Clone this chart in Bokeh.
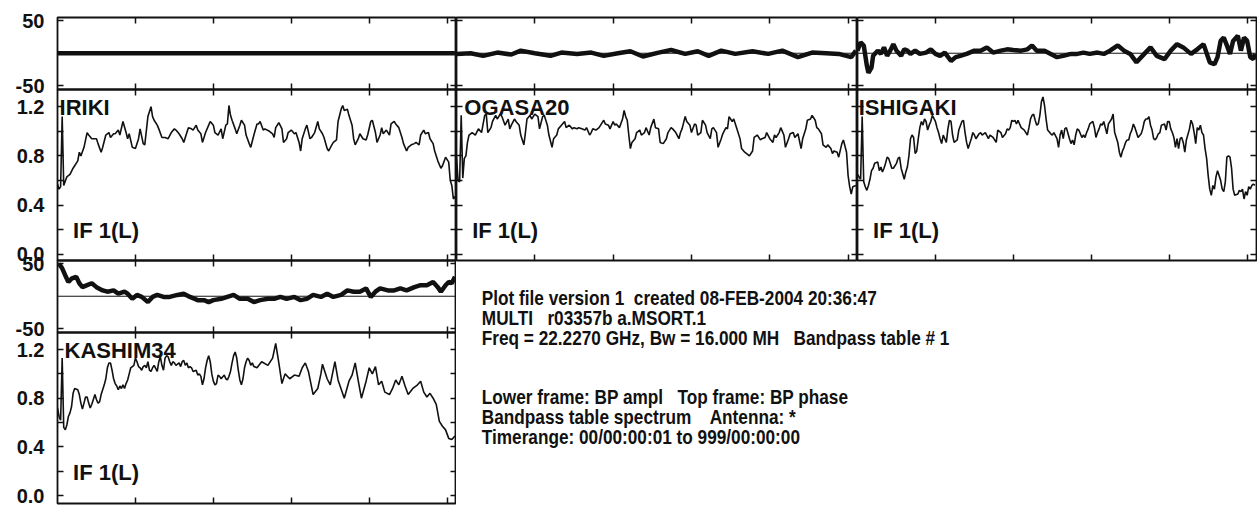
from bokeh.plotting import figure
from bokeh.models import Range1d, LinearAxis, FixedTicker, Span, Label, InlineStyleSheet
from bokeh.layouts import row, column
from bokeh.embed import file_html
from bokeh.resources import INLINE

# ---------------- data ----------------
x_ticks = [50, 100, 150, 200, 250]
phase_ticks = [-50, 50]
phase_tick_labels = ["-50", "50"]
amp_ticks = [0.0, 0.2, 0.4, 0.6, 0.8, 1.0, 1.2]
amp_tick_labels = ["0.0", "", "0.4", "", "0.8", "", "1.2"]
if_label = "IF 1(L)"
antennas = ["IRIKI", "OGASA20", "ISHIGAKI", "KASHIM34"]

iriki_amp_chan = [0, 1, 2, 3, 4, 6, 8, 10, 13, 14, 15, 17, 19, 20, 22, 23, 25, 26, 28, 29, 31, 33, 34, 36, 37, 39, 40, 42, 44, 45, 46, 48, 50, 52, 53, 55, 56, 58, 60, 61, 62, 64, 65, 67, 69, 71, 73, 75, 76, 78, 80, 81, 83, 84, 86, 87, 89, 90, 92, 93, 95, 97, 98, 100, 101, 103, 105, 106, 108, 109, 110, 111, 112, 114, 115, 117, 118, 120, 121, 123, 124, 126, 128, 129, 130, 132, 133, 136, 138, 139, 140, 142, 144, 145, 147, 148, 150, 152, 153, 155, 156, 157, 159, 160, 162, 163, 165, 167, 168, 170, 171, 173, 174, 176, 177, 179, 180, 182, 183, 184, 186, 187, 189, 190, 191, 193, 194, 196, 198, 199, 201, 202, 204, 205, 207, 208, 209, 211, 213, 214, 216, 217, 219, 221, 222, 224, 225, 227, 229, 230, 232, 233, 235, 236, 238, 239, 241, 242, 244, 246, 247, 249, 251, 252, 253, 254, 255]
iriki_amp = [0.57, 0.53, 0.55, 1.12, 0.56, 0.63, 0.65, 0.70, 0.76, 0.83, 0.80, 0.87, 0.99, 0.97, 0.94, 0.94, 0.94, 0.90, 0.83, 0.87, 0.97, 0.99, 0.95, 0.98, 0.98, 1.01, 0.97, 1.08, 0.99, 0.94, 0.98, 0.87, 0.86, 0.94, 1.02, 0.90, 0.89, 1.12, 1.20, 1.12, 1.09, 1.05, 1.02, 0.95, 0.95, 0.94, 0.99, 1.02, 1.01, 0.98, 0.94, 0.91, 0.99, 1.03, 1.02, 1.01, 1.05, 1.01, 0.98, 0.91, 0.99, 1.05, 1.08, 1.05, 0.99, 0.97, 1.02, 0.94, 1.05, 1.06, 1.21, 1.13, 1.09, 1.02, 0.98, 1.05, 1.09, 1.05, 0.97, 0.90, 0.87, 0.97, 1.06, 1.06, 1.08, 1.01, 1.02, 1.00, 0.98, 0.95, 1.03, 1.07, 1.02, 0.91, 0.94, 0.99, 1.01, 0.98, 0.99, 0.91, 0.84, 0.94, 1.02, 1.05, 0.94, 0.95, 0.99, 1.08, 1.02, 0.98, 0.95, 0.86, 0.84, 0.89, 0.91, 0.93, 1.08, 1.18, 1.21, 1.17, 1.18, 1.13, 1.05, 0.94, 0.89, 0.94, 0.98, 0.94, 0.93, 0.97, 1.08, 1.09, 0.99, 0.91, 0.97, 1.03, 0.98, 1.01, 0.97, 1.06, 1.08, 1.06, 1.03, 0.95, 0.90, 0.84, 0.87, 0.89, 0.90, 0.91, 0.89, 0.97, 1.01, 0.98, 0.99, 0.94, 0.90, 0.84, 0.76, 0.70, 0.72, 0.79, 0.75, 0.60, 0.56, 0.45, 0.47]
iriki_phase_chan = [0, 32, 64, 96, 128, 160, 192, 224, 255]
iriki_phase = [0.0, 0.0, 0.0, 0.0, 0.0, 0.0, 0.0, 0.0, 0.0]

ogasa_amp_chan = [0, 1, 2, 3, 4, 5, 6, 7, 8, 10, 12, 14, 16, 18, 19, 20, 22, 23, 25, 26, 28, 29, 31, 33, 34, 35, 37, 38, 40, 41, 43, 44, 45, 47, 48, 50, 52, 53, 55, 56, 58, 59, 61, 62, 64, 65, 67, 69, 70, 72, 74, 75, 77, 78, 80, 82, 83, 85, 86, 87, 89, 91, 92, 94, 95, 97, 98, 100, 101, 102, 104, 106, 107, 108, 109, 110, 111, 112, 114, 115, 117, 118, 120, 121, 123, 124, 126, 127, 129, 130, 132, 134, 135, 137, 138, 140, 142, 143, 144, 146, 147, 149, 150, 152, 153, 154, 156, 157, 159, 160, 162, 163, 164, 166, 167, 169, 170, 172, 173, 174, 176, 177, 179, 181, 182, 184, 185, 187, 189, 190, 192, 194, 195, 197, 198, 200, 202, 203, 204, 206, 207, 209, 210, 212, 213, 215, 216, 218, 220, 221, 223, 224, 226, 227, 229, 230, 231, 233, 234, 236, 237, 239, 240, 241, 243, 244, 246, 247, 249, 250, 251, 252, 253, 255]
ogasa_amp = [0.79, 0.60, 0.59, 1.13, 0.62, 0.78, 0.80, 0.91, 0.97, 0.99, 0.97, 1.02, 0.99, 1.13, 1.14, 0.99, 1.03, 1.08, 1.13, 1.10, 1.14, 1.12, 1.05, 1.10, 1.02, 1.05, 1.10, 1.08, 1.05, 0.97, 0.89, 0.99, 1.10, 1.13, 1.10, 1.14, 1.12, 1.02, 1.12, 1.13, 1.05, 0.97, 0.87, 0.94, 0.97, 1.02, 1.05, 1.08, 1.03, 1.05, 1.02, 1.03, 1.02, 1.03, 1.02, 1.01, 1.03, 0.97, 0.99, 1.02, 1.01, 1.03, 1.05, 1.09, 1.06, 1.05, 1.02, 1.08, 1.05, 1.06, 1.03, 1.10, 1.17, 1.12, 1.09, 0.97, 0.86, 0.91, 0.94, 0.99, 1.01, 0.97, 0.99, 1.03, 0.97, 1.03, 1.10, 1.03, 1.02, 0.91, 0.90, 0.94, 0.99, 1.03, 1.02, 0.99, 0.94, 0.99, 1.02, 1.12, 1.08, 1.05, 0.99, 1.06, 1.05, 0.97, 0.99, 1.09, 1.05, 0.99, 0.94, 1.02, 1.03, 0.99, 0.87, 0.94, 0.98, 1.03, 1.02, 1.12, 1.08, 1.10, 1.02, 0.94, 0.86, 0.83, 0.82, 0.80, 0.84, 0.95, 0.97, 0.93, 0.94, 0.95, 0.99, 0.94, 0.91, 0.97, 0.95, 0.99, 1.03, 0.97, 0.87, 0.94, 0.98, 0.99, 0.95, 0.98, 0.86, 0.94, 1.02, 1.09, 1.10, 1.13, 1.09, 1.03, 1.02, 0.98, 0.89, 0.87, 0.89, 0.86, 0.82, 0.84, 0.83, 0.79, 0.90, 0.93, 0.83, 0.64, 0.55, 0.49, 0.55, 0.56]
ogasa_phase_chan = [0, 9, 17, 26, 35, 41, 50, 60, 67, 77, 86, 94, 103, 111, 119, 129, 137, 146, 154, 161, 169, 178, 189, 199, 208, 218, 227, 236, 244, 252, 255]
ogasa_phase = [-1, 0, -4, 1, -2, 4, 0, -4, 1, -1, 1, -4, 0, 3, -5, 1, 5, -1, 3, -4, 4, -1, 3, -1, 4, -6, 1, 0, -1, -6, 4]

ishigaki_amp_chan = [0, 1, 2, 3, 4, 5, 6, 7, 8, 9, 10, 11, 13, 14, 15, 16, 17, 18, 19, 20, 21, 22, 23, 25, 26, 27, 28, 30, 31, 32, 33, 34, 35, 36, 37, 38, 39, 40, 41, 42, 43, 44, 45, 46, 47, 48, 50, 51, 52, 53, 54, 55, 56, 57, 58, 59, 60, 61, 62, 64, 65, 67, 68, 69, 70, 71, 72, 73, 74, 75, 76, 78, 79, 80, 82, 84, 85, 87, 89, 90, 92, 93, 95, 96, 97, 98, 99, 100, 101, 102, 103, 104, 105, 107, 108, 109, 110, 111, 112, 113, 114, 115, 116, 117, 118, 119, 120, 121, 122, 124, 125, 126, 128, 129, 130, 131, 132, 133, 134, 136, 137, 138, 139, 140, 141, 142, 143, 144, 145, 146, 147, 148, 149, 151, 152, 153, 154, 155, 156, 157, 158, 159, 160, 161, 162, 163, 164, 165, 167, 168, 169, 170, 171, 172, 173, 174, 175, 176, 177, 178, 179, 180, 182, 183, 184, 185, 186, 187, 188, 189, 190, 191, 192, 193, 194, 195, 197, 198, 199, 200, 201, 202, 203, 204, 205, 206, 207, 208, 209, 210, 211, 213, 214, 215, 216, 217, 218, 219, 220, 221, 222, 223, 224, 225, 226, 227, 228, 229, 230, 231, 232, 233, 234, 235, 236, 237, 238, 239, 240, 241, 242, 244, 245, 246, 247, 248, 249, 250, 251, 252, 253, 254, 255]
ishigaki_amp = [0.65, 0.63, 0.61, 1.12, 0.59, 0.55, 0.52, 0.56, 0.61, 0.68, 0.70, 0.74, 0.75, 0.68, 0.71, 0.67, 0.70, 0.74, 0.79, 0.78, 0.74, 0.70, 0.70, 0.74, 0.78, 0.79, 0.70, 0.61, 0.67, 0.71, 0.80, 0.94, 0.97, 0.95, 0.82, 0.84, 0.94, 1.03, 1.08, 1.05, 1.10, 1.08, 1.01, 1.05, 1.08, 1.13, 1.08, 1.03, 0.99, 0.94, 0.90, 0.97, 0.94, 0.91, 1.02, 1.09, 1.08, 0.97, 0.91, 0.93, 1.01, 1.08, 1.09, 0.99, 0.91, 0.86, 0.90, 0.94, 0.99, 0.97, 0.94, 0.98, 0.99, 0.97, 0.99, 0.94, 0.97, 0.95, 0.91, 1.01, 0.99, 0.95, 0.98, 1.02, 1.01, 1.03, 1.09, 1.08, 1.09, 1.06, 1.09, 1.06, 1.03, 1.01, 0.99, 0.97, 1.03, 1.10, 1.13, 1.14, 1.09, 1.05, 1.06, 1.13, 1.24, 1.28, 1.21, 1.10, 1.01, 0.98, 0.97, 0.99, 0.94, 0.87, 0.97, 1.01, 0.94, 1.02, 1.03, 0.94, 0.90, 0.93, 0.89, 0.97, 1.02, 1.01, 0.98, 0.95, 0.97, 0.95, 0.99, 1.02, 1.06, 1.08, 1.03, 0.95, 0.99, 1.02, 1.06, 1.05, 1.08, 1.03, 0.98, 1.06, 1.08, 1.10, 1.14, 0.99, 0.91, 0.83, 0.79, 0.84, 0.87, 0.91, 0.93, 0.93, 0.98, 1.01, 1.06, 1.03, 0.99, 0.95, 0.98, 1.02, 1.08, 1.10, 1.10, 1.12, 1.05, 1.01, 0.94, 0.93, 0.95, 0.98, 0.99, 1.05, 1.06, 1.01, 1.08, 1.08, 1.02, 0.99, 0.95, 0.87, 0.94, 0.86, 0.94, 0.95, 0.91, 0.83, 0.93, 1.02, 1.09, 1.06, 0.99, 0.90, 1.03, 1.01, 1.05, 0.99, 0.97, 0.86, 0.78, 0.64, 0.53, 0.48, 0.56, 0.53, 0.63, 0.68, 0.64, 0.60, 0.53, 0.51, 0.59, 0.79, 0.80, 0.79, 0.70, 0.53, 0.48, 0.49, 0.52, 0.51, 0.53, 0.45, 0.51, 0.48, 0.55, 0.53, 0.56, 0.57, 0.56]
ishigaki_phase_chan = [0, 2, 4, 6, 7, 9, 10, 13, 15, 17, 19, 21, 23, 25, 28, 30, 32, 34, 37, 40, 44, 47, 50, 53, 56, 60, 63, 66, 70, 75, 79, 83, 87, 92, 96, 100, 105, 109, 112, 115, 120, 124, 128, 132, 137, 141, 145, 149, 154, 158, 162, 167, 171, 175, 179, 184, 188, 192, 197, 201, 205, 209, 214, 218, 222, 226, 229, 231, 233, 235, 237, 239, 241, 244, 246, 248, 250, 252, 254, 255]
ishigaki_phase = [4, 17, 12, -19, -30, -22, -4, 4, -1, 9, -4, 4, 14, 4, -4, 6, 4, -1, 4, -1, 1, 6, -1, -4, 1, -12, -6, -4, -1, 4, 4, 9, 1, 4, 6, 5, 4, 6, 12, 4, 4, -1, -6, -4, -1, -1, 1, -1, 1, -1, 4, 12, 4, -1, -14, -1, 9, -4, -9, 4, 14, 9, -1, 6, 14, -14, -17, -6, 19, 24, 12, -1, 19, 27, 4, 24, 19, -6, -9, -1]

kashim_amp_chan = [0, 1, 2, 3, 4, 5, 6, 7, 8, 9, 10, 11, 13, 14, 15, 16, 17, 18, 19, 20, 21, 22, 23, 24, 25, 26, 27, 28, 30, 31, 32, 33, 34, 35, 36, 37, 38, 39, 40, 41, 42, 43, 44, 45, 46, 47, 49, 50, 51, 52, 53, 54, 55, 56, 57, 58, 59, 60, 61, 62, 64, 65, 66, 67, 68, 69, 70, 71, 72, 73, 74, 75, 76, 78, 79, 80, 81, 82, 83, 84, 85, 86, 87, 89, 90, 91, 92, 93, 94, 95, 96, 97, 98, 99, 100, 101, 102, 103, 104, 105, 107, 108, 109, 110, 111, 112, 113, 114, 115, 116, 117, 118, 119, 120, 121, 122, 123, 124, 125, 126, 128, 131, 135, 138, 140, 142, 144, 146, 149, 152, 155, 157, 159, 161, 164, 167, 169, 170, 173, 175, 178, 180, 184, 187, 189, 191, 193, 195, 198, 200, 202, 204, 206, 208, 210, 213, 215, 217, 219, 221, 223, 225, 228, 231, 233, 235, 237, 239, 241, 243, 245, 247, 249, 251, 253, 255]
kashim_amp = [0.72, 0.65, 0.62, 1.13, 0.56, 0.54, 0.58, 0.65, 0.68, 0.73, 0.84, 0.88, 0.87, 0.83, 0.76, 0.71, 0.76, 0.81, 0.81, 0.76, 0.72, 0.75, 0.79, 0.83, 0.79, 0.76, 0.77, 0.83, 0.91, 0.96, 1.05, 1.09, 1.09, 1.03, 0.96, 0.92, 0.90, 0.87, 0.90, 0.88, 0.91, 0.88, 0.92, 0.95, 1.00, 1.05, 1.07, 1.13, 1.10, 1.06, 1.05, 1.03, 1.06, 1.07, 1.05, 1.10, 1.03, 1.02, 1.05, 1.07, 1.02, 1.10, 1.14, 1.07, 1.03, 1.13, 1.15, 1.14, 1.10, 1.07, 1.10, 1.09, 1.07, 1.09, 1.06, 1.10, 1.11, 1.07, 1.09, 1.05, 1.06, 1.05, 1.02, 1.03, 0.99, 1.00, 0.98, 0.91, 0.96, 1.05, 1.11, 1.15, 1.10, 1.00, 0.94, 0.91, 0.92, 0.99, 0.98, 0.96, 0.99, 0.96, 0.95, 0.98, 1.02, 1.09, 1.15, 1.18, 1.13, 1.03, 0.95, 0.91, 0.96, 1.05, 1.10, 1.13, 1.11, 1.07, 1.09, 1.06, 1.05, 1.10, 1.07, 1.13, 1.25, 1.09, 0.92, 1.00, 0.96, 0.99, 0.98, 1.05, 1.09, 1.02, 0.83, 0.88, 1.00, 1.08, 0.96, 0.91, 1.10, 0.95, 0.80, 0.94, 0.99, 1.09, 0.94, 0.80, 0.94, 1.05, 1.00, 1.06, 0.91, 0.94, 0.85, 0.83, 0.88, 0.95, 0.91, 0.98, 0.90, 0.83, 0.88, 0.91, 0.94, 0.85, 0.81, 0.84, 0.80, 0.75, 0.61, 0.57, 0.54, 0.47, 0.46, 0.49]
kashim_phase_chan = [1, 3, 5, 7, 9, 12, 14, 16, 19, 22, 25, 29, 32, 36, 39, 43, 45, 48, 51, 54, 58, 61, 64, 68, 72, 77, 81, 85, 90, 94, 97, 100, 105, 109, 113, 117, 122, 126, 130, 135, 139, 143, 147, 152, 156, 160, 164, 169, 173, 177, 182, 186, 190, 194, 198, 201, 204, 207, 212, 216, 220, 224, 229, 233, 237, 241, 244, 246, 249, 251, 253, 255]
kashim_phase = [50, 43, 32, 22, 27, 30, 20, 14, 17, 20, 14, 9, 7, 9, 4, 7, 4, -4, 2, -1, -9, -1, 2, -1, -1, 2, 4, -1, -6, -6, -9, -6, -4, -1, 2, -4, -4, -9, -6, -4, -4, -1, -4, -1, -6, -4, 2, -1, 4, -1, 2, 9, 7, 7, 12, -1, 7, 12, 9, 9, 12, 9, 14, 17, 17, 22, 14, 7, 17, 22, 20, 30]

info_lines = [
    "Plot file version 1\u00a0 created 08-FEB-2004 20:36:47",
    "MULTI\u00a0\u00a0 r03357b a.MSORT.1",
    "Freq = 22.2270 GHz, Bw = 16.000 MH\u00a0\u00a0 Bandpass table # 1",
    "Lower frame: BP ampl\u00a0\u00a0 Top frame: BP phase",
    "Bandpass table spectrum\u00a0\u00a0\u00a0 Antenna: *",
    "Timerange: 00/00:00:01 to 999/00:00:00",
]

series = [
    (iriki_phase_chan, iriki_phase, iriki_amp_chan, iriki_amp),
    (ogasa_phase_chan, ogasa_phase, ogasa_amp_chan, ogasa_amp),
    (ishigaki_phase_chan, ishigaki_phase, ishigaki_amp_chan, ishigaki_amp),
    (kashim_phase_chan, kashim_phase, kashim_amp_chan, kashim_amp),
]

# ---------------- styling / layout ----------------
FONT = "Liberation Sans"
FRAME_W = [399, 401, 399]
LEFT_B = 57
TOP_B = 17
OV = 10            # overlap borders so that labels near edges are not clipped
PHASE_H = 72
AMP_H = 171
X_RANGE = (0, 256)
PHASE_RANGE = (-55.8, 55.0)
AMP_RANGE_TOP = (-0.05, 1.34)
AMP_RANGE_BOTTOM = (-0.065, 1.34)
name_x = [1.3, 5.0, 0.8, 4.5]   # label offsets (channels)
NAME_Y = 1.19
IF_Y = 0.19
INK = "#111111"


def style_axis(ax, ticks, labels=None):
    ax.ticker = FixedTicker(ticks=ticks)
    ax.major_tick_in = 6
    ax.major_tick_out = 0
    ax.minor_tick_in = 0
    ax.minor_tick_out = 0
    ax.major_tick_line_color = INK
    ax.major_tick_line_width = 1.5
    ax.axis_line_color = None
    if labels is None:
        ax.major_label_text_color = None
        ax.major_label_standoff = 0
    else:
        ax.major_label_overrides = dict(zip(ticks, labels))
        ax.major_label_text_font = FONT
        ax.major_label_text_font_style = "bold"
        ax.major_label_text_font_size = "20px"
        ax.major_label_text_color = INK
        ax.major_label_standoff = 13


def make_fig(col, frame_h, bt, bb, mt, mb, yrange, yticks, ylabels):
    bl = LEFT_B if col == 0 else 0
    br = 1 if col == 2 else 0
    p = figure(width=FRAME_W[col] + bl + br, height=frame_h + bt + bb, title=None,
               x_range=Range1d(*X_RANGE), y_range=Range1d(*yrange),
               output_backend="svg", toolbar_location=None, tools="",
               min_border_left=bl, min_border_right=br,
               min_border_top=bt, min_border_bottom=bb,
               margin=(mt, 0, mb, 0))
    p.background_fill_color = None
    p.border_fill_color = None
    p.xgrid.visible = False
    p.ygrid.visible = False
    p.outline_line_color = INK
    p.outline_line_width = 1.8
    p.add_layout(LinearAxis(), "above")
    p.add_layout(LinearAxis(), "right")
    for ax in p.xaxis:
        style_axis(ax, x_ticks)
    style_axis(p.right[0], yticks)
    style_axis(p.left[0], yticks, ylabels if col == 0 else None)
    return p


def make_panel(i, col, top_row):
    ph_ch, ph, am_ch, am = series[i]
    if top_row:
        pp = make_fig(col, PHASE_H, TOP_B, OV, 0, -OV, PHASE_RANGE, phase_ticks, phase_tick_labels)
    else:
        pp = make_fig(col, PHASE_H, OV, OV, -OV, -OV, PHASE_RANGE, phase_ticks, phase_tick_labels)
    pp.add_layout(Span(location=0, dimension="width", line_color=INK, line_width=1))
    pp.line(ph_ch, ph, line_color=INK, line_width=4.5)

    if top_row:
        pa = make_fig(col, AMP_H, OV, OV, -OV, -OV, AMP_RANGE_TOP, amp_ticks, amp_tick_labels)
    else:
        pa = make_fig(col, AMP_H, OV, 3, -OV, 0, AMP_RANGE_BOTTOM, amp_ticks, amp_tick_labels)
    pa.line(am_ch, am, line_color=INK, line_width=1.6)
    pa.add_layout(Label(x=name_x[i], y=NAME_Y, text=antennas[i], text_font=FONT,
                        text_font_style="bold", text_font_size="22px",
                        text_baseline="middle", text_color=INK))
    pa.add_layout(Label(x=10, y=IF_Y, text=if_label, text_font=FONT,
                        text_font_style="bold", text_font_size="22px",
                        text_baseline="middle", text_color=INK))
    return column(pp, pa, spacing=0)


c1 = make_panel(0, 0, True)
c2 = make_panel(1, 1, True)
c3 = make_panel(2, 2, True)
c4 = make_panel(3, 0, False)

SQUEEZE = 0.82
TW = FRAME_W[1] + FRAME_W[2] + 1
TH = PHASE_H + AMP_H + 3
tp = figure(width=TW, height=TH, title=None, x_range=Range1d(0, TW), y_range=Range1d(TH, 0),
            x_axis_type=None, y_axis_type=None, output_backend="svg",
            toolbar_location=None, tools="", min_border=0,
            stylesheets=[InlineStyleSheet(css=":host { transform: scaleX(%s); transform-origin: 0 0; }" % SQUEEZE)])
tp.outline_line_color = None
tp.background_fill_color = None
tp.border_fill_color = None
tp.xgrid.visible = False
tp.ygrid.visible = False
line_y = [37, 57, 77, 136, 156, 176]
for txt, yy in zip(info_lines, line_y):
    tp.add_layout(Label(x=31 / SQUEEZE, y=yy, text=txt, text_font=FONT, text_font_style="bold",
                        text_font_size="21px", text_baseline="middle",
                        text_color=INK))

layout = column(row(c1, c2, c3, spacing=0), row(c4, tp, spacing=0), spacing=0)

open("out.html", "w").write(file_html(layout, INLINE))
